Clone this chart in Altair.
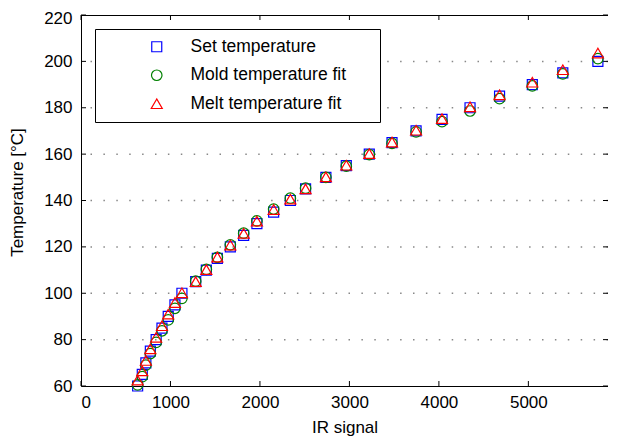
import altair as alt
import pandas as pd

# ---- data ----
signal = [633, 685, 725, 775, 840, 905, 975, 1050, 1128, 1282, 1401, 1524, 1669, 1818,
          1966, 2153, 2340, 2510, 2737, 2965, 3222, 3476, 3745, 4035, 4348, 4678, 5044,
          5385, 5777]
set_temp = [60, 65, 70, 75, 80, 85, 90, 95, 100, 105, 110, 115, 120, 125, 130, 135, 140,
            145, 150, 155, 160, 165, 170, 175, 180, 185, 190, 195, 200]
mold_fit = [60.5, 64, 69, 74, 78.8, 83.8, 88.5, 93.5, 97.8, 105.2, 110.3, 115.5, 120.9,
            125.9, 131.2, 136.3, 141, 145.3, 150, 154.8, 159.8, 164.6, 169.6, 174, 178.6,
            183.9, 189.4, 194.6, 201.2]
melt_fit = [62.5, 66.5, 71, 76, 81, 86, 91, 96, 100.2, 105, 110.2, 115.6, 120.8, 125.8,
            131.1, 136.1, 140.6, 145, 150.2, 155.2, 160.2, 165.2, 170.3, 175.3, 180.4,
            185.6, 191, 196.4, 203.6]

series = ["Set temperature", "Mold temperature fit", "Melt temperature fit"]
colors = ["#0000ff", "#008000", "#ff0000"]
shapes = ["square", "circle", "triangle-up"]
sizes = [100, 121, 196]

x_ticks = [0, 1000, 2000, 3000, 4000, 5000]
y_ticks = [60, 80, 100, 120, 140, 160, 180, 200, 220]
grid_vals = [80, 100, 120, 140, 160, 180, 200]

rows = []
for name, vals in zip(series, [set_temp, mold_fit, melt_fit]):
    for s, v in zip(signal, vals):
        rows.append({"signal": s, "temp": v, "series": name})
df = pd.DataFrame(rows)

W, H = 527, 371
FONT = "Liberation Sans"
xscale = alt.Scale(domain=[0, 5890], nice=False, zero=False)
yscale = alt.Scale(domain=[60, 220], nice=False, zero=False)
x_axis = alt.Axis(values=x_ticks, title="IR signal", format="d")
y_axis = alt.Axis(values=y_ticks, title="Temperature [°C]", format="d", titleY=177,
                  labelOffset={"condition": {"test": "datum.value == 220", "value": 3},
                               "value": 0})

leg = dict(title="i", titleOrient="right")

points = alt.Chart(df).mark_point(filled=False, strokeWidth=1.2, opacity=1).encode(
    x=alt.X("signal:Q", scale=xscale, axis=x_axis),
    y=alt.Y("temp:Q", scale=yscale, axis=y_axis),
    color=alt.Color("series:N", scale=alt.Scale(domain=series, range=colors),
                    legend=alt.Legend(**leg)),
    shape=alt.Shape("series:N", scale=alt.Scale(domain=series, range=shapes),
                    legend=alt.Legend(**leg)),
    size=alt.Size("series:N", scale=alt.Scale(domain=series, range=sizes),
                  legend=alt.Legend(**leg)),
)

grid = alt.Chart(pd.DataFrame({"temp": grid_vals})).mark_rule(
    color="#888888", strokeDash=[1.5, 11.4], strokeWidth=1.5
).encode(y=alt.Y("temp:Q", scale=yscale, axis=y_axis))

ydf = pd.DataFrame({"temp": y_ticks})
xdf = pd.DataFrame({"signal": x_ticks})
left_ticks = alt.Chart(ydf).mark_rule(color="black", strokeWidth=1).encode(
    y=alt.Y("temp:Q", scale=yscale, axis=y_axis), x=alt.value(0), x2=alt.value(5))
right_ticks = alt.Chart(ydf).mark_rule(color="black", strokeWidth=1).encode(
    y=alt.Y("temp:Q", scale=yscale, axis=y_axis), x=alt.value(W - 5), x2=alt.value(W))
bottom_ticks = alt.Chart(xdf).mark_rule(color="black", strokeWidth=1).encode(
    x=alt.X("signal:Q", scale=xscale, axis=x_axis), y=alt.value(H), y2=alt.value(H - 5))
top_ticks = alt.Chart(xdf).mark_rule(color="black", strokeWidth=1).encode(
    x=alt.X("signal:Q", scale=xscale, axis=x_axis), y=alt.value(0), y2=alt.value(5))
top_line = alt.Chart(pd.DataFrame({"k": [0]})).mark_rule(color="black", strokeWidth=1).encode(
    y=alt.value(0.5), x=alt.value(0), x2=alt.value(W))

chart = alt.layer(grid, left_ticks, right_ticks, bottom_ticks, top_ticks, top_line,
                  points).properties(
    width=W, height=H,
    autosize=alt.AutoSizeParams(type="none"),
    padding={"left": 73, "top": 7, "right": 0, "bottom": 52},
).configure(font=FONT).configure_view(
    strokeWidth=0
).configure_axis(
    domain=True, domainColor="black", domainWidth=1, grid=False, ticks=True, tickSize=0,
    labelFontSize=17, titleFontSize=17, titleFontWeight="normal",
    labelColor="black", titleColor="black", labelFont=FONT, titleFont=FONT,
).configure_axisX(labelPadding=8, titlePadding=9).configure_axisY(
    labelPadding=9, titlePadding=17.5
).configure_legend(
    orient="none", legendX=14, legendY=14, padding=9,
    fillColor="white", strokeColor="black", strokeWidth=1,
    labelFontSize=17.5, labelColor="black", labelFont=FONT,
    titleFontSize=10, titleColor="#ffffff", titlePadding=22,
    symbolOffset=44, labelOffset=25, rowPadding=9.5, labelLimit=400,
    symbolStrokeWidth=1.2, cornerRadius=0,
)

chart.save("out.html", embed_options={"renderer": "svg", "actions": False})
